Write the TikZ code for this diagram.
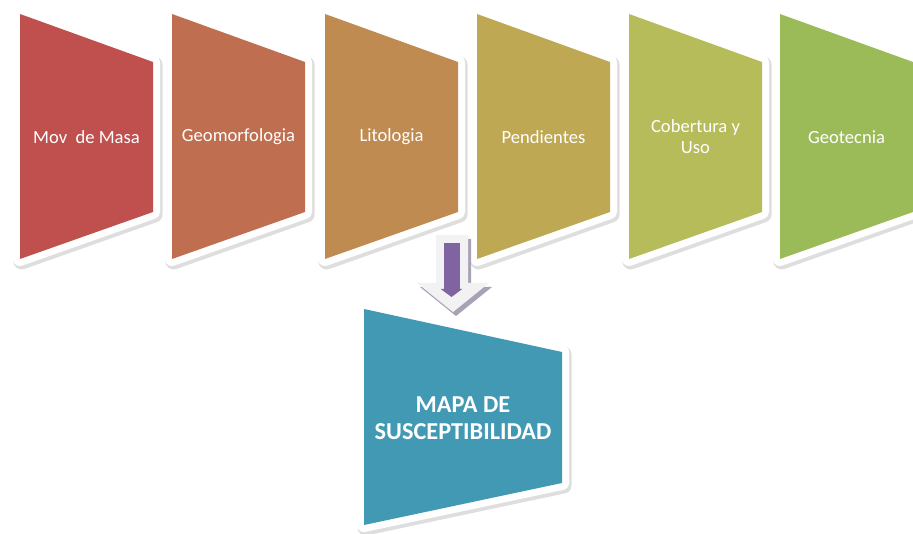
\documentclass[tikz,border=0pt]{standalone}
\usepackage{fontspec}
\setmainfont{Carlito}
\usetikzlibrary{arrows.meta}

\definecolor{masa}{HTML}{C0504D}
\definecolor{geomorf}{HTML}{C06E50}
\definecolor{lito}{HTML}{BF8B51}
\definecolor{pend}{HTML}{BEA853}
\definecolor{cober}{HTML}{B6BC5A}
\definecolor{geotec}{HTML}{9BBB59}
\definecolor{mapa}{HTML}{4299B3}
\definecolor{flecha}{HTML}{8064A2}
\definecolor{flechabg}{HTML}{F2F2F2}
\definecolor{sombra}{HTML}{A9A2B6}

\tikzset{
  frameshadow/.style={black, opacity=0.13, line width=16pt, line join=round},
  whiteframe/.style={white, line width=14pt, line join=round},
  boxtext/.style={text=white, font=\fontsize{18.6}{21}\selectfont, align=center},
  maptext/.style={text=white, font=\fontsize{24.3}{27}\selectfont\bfseries, align=center}
}

\begin{document}
\begin{tikzpicture}[x=1pt,y=-1pt]
\useasboundingbox (0,0) rectangle (913,534);
% six input boxes
\foreach \x/\col/\name/\txt in {20/masa/mov/{Mov\ \ de Masa},
    172/geomorf/geomorf/{Geomorfologia}, 325/lito/lito/{Litologia},
    477/pend/pend/{Pendientes}, 629/cober/cober/{Cobertura y\\Uso},
    780/geotec/geotec/{Geotecnia}}
{
  \draw[frameshadow,shift={(1.5,2.5)}] (\x,14) -- (\x+133,62) -- (\x+133,212) -- (\x,259) -- cycle;
  \draw[whiteframe] (\x,14) -- (\x+133,62) -- (\x+133,212) -- (\x,259) -- cycle;
  \fill[\col] (\x,14) -- (\x+133,62) -- (\x+133,212) -- (\x,259) -- cycle;
  \node[boxtext] (\name) at (\x+66.5,137) {\txt};
}
% block arrow
\fill[sombra,shift={(3,4)}] (436,235) -- (468,235) -- (468,283) -- (489,283) -- (453,312) -- (417,283) -- (436,283) -- cycle;
\fill[flechabg] (436,235) -- (468,235) -- (468,283) -- (489,283) -- (453,312) -- (417,283) -- (436,283) -- cycle;
\coordinate (arrowtop) at (451.5,243);
\coordinate (arrowtip) at (451.5,297);
\draw[flecha, line width=16pt, -{Triangle[width=21pt,length=8pt]}] (arrowtop) -- (arrowtip);
% result box
\draw[frameshadow,shift={(1.5,2.5)}] (364,309) -- (562,352) -- (562,483) -- (364,525) -- cycle;
\draw[whiteframe] (364,309) -- (562,352) -- (562,483) -- (364,525) -- cycle;
\fill[mapa] (364,309) -- (562,352) -- (562,483) -- (364,525) -- cycle;
\node[maptext] (mapa) at (463,418) {MAPA DE\\SUSCEPTIBILIDAD};
\end{tikzpicture}
\end{document}
